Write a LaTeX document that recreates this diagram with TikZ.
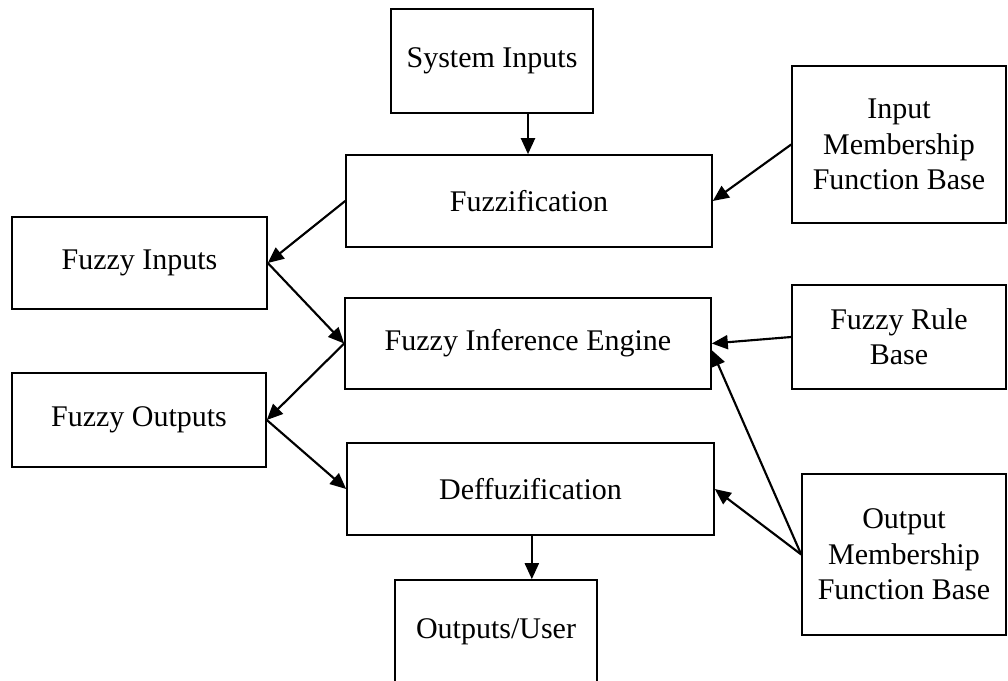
\documentclass[tikz,border=0pt]{standalone}
\usepackage{fontspec}
\setmainfont{Liberation Serif}
\usepackage{tikz}
\usetikzlibrary{arrows.meta,positioning,calc}
\tikzstyle{blk}=[draw, line width=1.2pt, rectangle, align=center, inner sep=0pt]
\tikzstyle{lnk}=[line width=1.6pt, -{Triangle[length=12pt,width=10.5pt]}]
\def\ux{0.75pt}
\def\uy{-0.75pt}

\begin{document}
\begin{tikzpicture}[x=\ux,y=\uy, font=\fontsize{22.5}{26.5}\selectfont]
		\useasboundingbox (0,0) rectangle (1008,681);
		% boxes of the middle column
		\node[blk, minimum width=202*\ux, minimum height=104*0.75pt] (sysin) at (492,61) {System Inputs};
		\node[blk, minimum width=366*\ux, minimum height=92*0.75pt] (fuzzif) at (529,201) {Fuzzification};
		\node[blk, minimum width=366*\ux, minimum height=91*0.75pt] (infer) at (528,343.5) {Fuzzy Inference Engine};
		\node[blk, minimum width=367*\ux, minimum height=92*0.75pt] (defuz) at (530.5,489) {Deffuzification};
		\node[blk, minimum width=202*\ux, minimum height=104*0.75pt] (outuser) at (496,632) {Outputs/User};
		% left column
		\node[blk, minimum width=255*\ux, minimum height=92*0.75pt] (fzin) at (139.5,263) {Fuzzy Inputs};
		\node[blk, minimum width=254*\ux, minimum height=94*0.75pt] (fzout) at (139,420) {Fuzzy Outputs};
		% right column
		\node[blk, minimum width=214*\ux, minimum height=157*0.75pt] (inmf) at (899,144.5) {Input\\Membership\\Function Base};
		\node[blk, minimum width=214*\ux, minimum height=104*0.75pt] (rule) at (899,337) {Fuzzy Rule\\Base};
		\node[blk, minimum width=204*\ux, minimum height=161*0.75pt] (outmf) at (904,554.5) {Output\\Membership\\Function Base};

		\draw[lnk] ([xshift=27pt]sysin.south) -- ([xshift=27pt]sysin.south |- fuzzif.north);
		\draw[lnk] (fuzzif.west) -- (fzin.east);
		\draw[lnk] (fzin.east) -- (infer.west);
		\draw[lnk] (infer.west) -- (fzout.east);
		\draw[lnk] (fzout.east) -- (defuz.west);
		\draw[lnk] ([xshift=1pt]defuz.south) -- ([xshift=1pt]defuz.south |- outuser.north);
		\draw[lnk] (inmf.west) -- (fuzzif.east);
		\draw[lnk] (rule.west) -- (infer.east);
		\draw[lnk] (outmf.west) -- (defuz.east);
		\draw[lnk] (outmf.west) -- ([yshift=-5pt]infer.east);
\end{tikzpicture}
\end{document}
